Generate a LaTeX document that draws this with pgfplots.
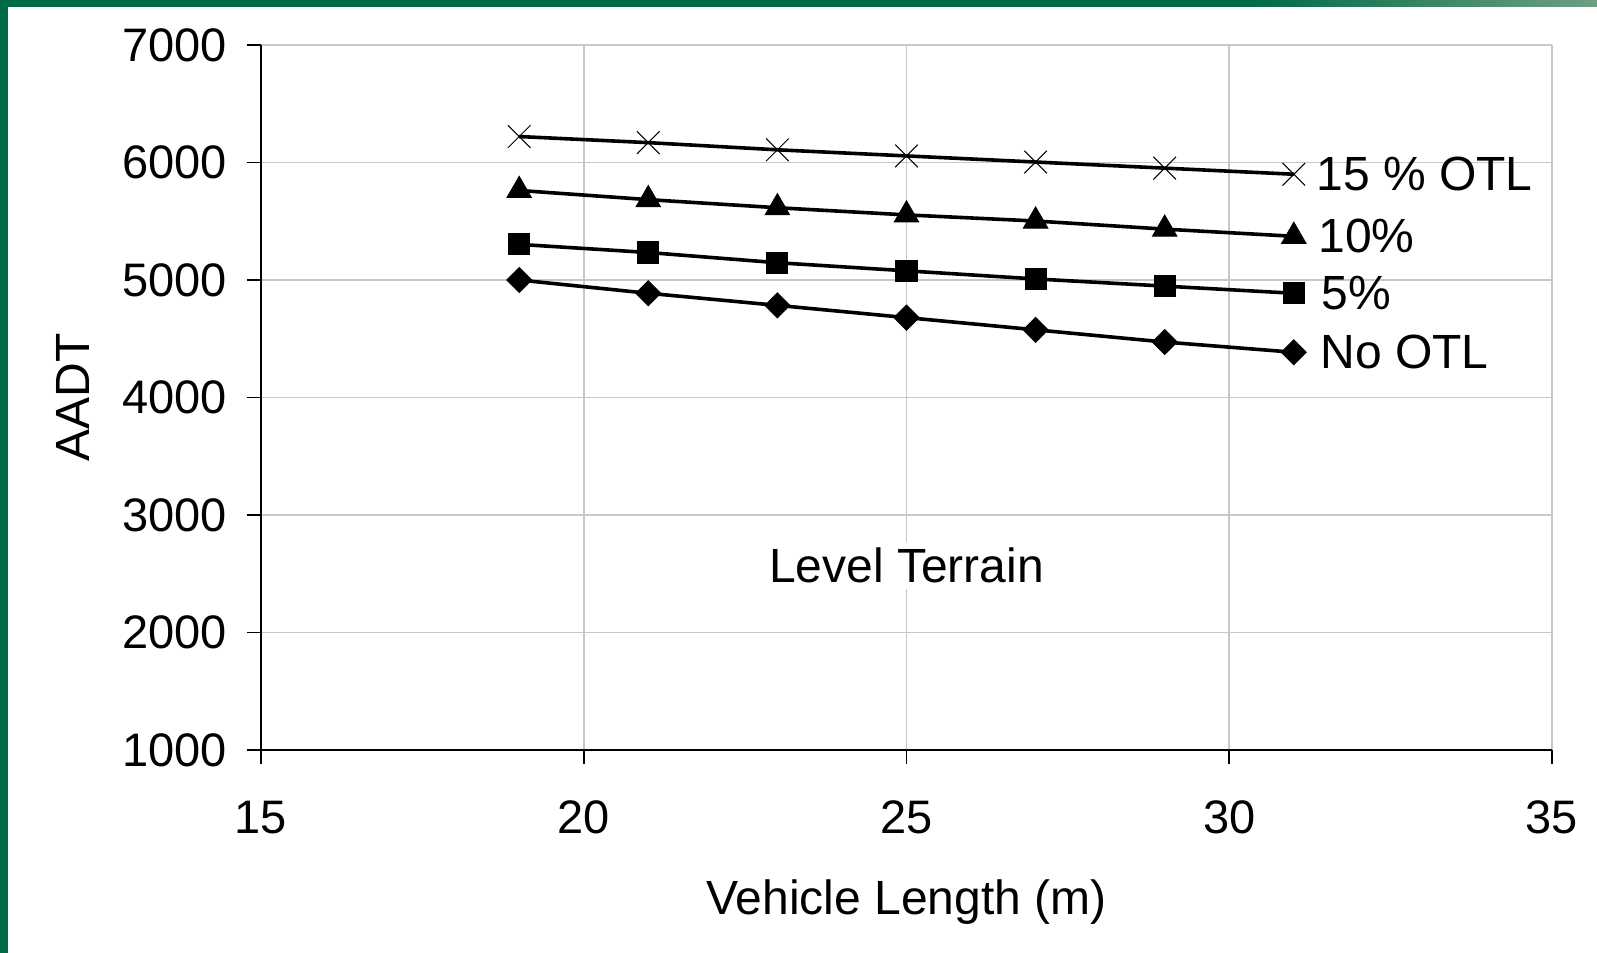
\documentclass[border=0pt]{standalone}
\usepackage{fontspec}
\setmainfont{Liberation Sans}
\usepackage{pgfplots}
\pgfplotsset{compat=1.18}
\definecolor{bordergreen}{RGB}{0,106,70}
\definecolor{bordergreenlight}{RGB}{110,160,130}
\definecolor{gridgray}{RGB}{200,200,200}
\begin{document}
\begin{tikzpicture}
\fill[bordergreen] (-130.5pt,-101.5pt) rectangle (668pt,375pt);
\shade[left color=bordergreen, right color=bordergreenlight] (495pt,371.5pt) rectangle (668pt,375pt);
\fill[white] (-126.5pt,-101.5pt) rectangle (668pt,371.5pt);
\begin{axis}[
 at={(0,0)}, anchor=south west, scale only axis,
 width=645.5pt, height=352.5pt,
 xmin=15,xmax=35,ymin=1000,ymax=7000,
 xtick={15,20,25,30,35}, ytick={1000,2000,3000,4000,5000,6000,7000},
 axis x line*=bottom, axis y line*=left,
 axis line style={black, line width=0.8pt, -},
 grid=major, grid style={gridgray, line width=0.9pt},
 tick align=outside, major tick length=7pt, tick style={black, line width=0.8pt},
 ticklabel style={font=\fontsize{23.5}{27}\selectfont},
 yticklabel style={xshift=-6.5pt},
 xticklabel style={yshift=-15pt},
 /pgf/number format/assume math mode=true,
 /pgf/number format/1000 sep={},
 xlabel={Vehicle Length (m)}, ylabel={AADT},
 label style={font=\fontsize{24}{28}\selectfont},
 xlabel style={at={(axis description cs:0.5,0)}, anchor=center, yshift=-76pt},
 ylabel style={at={(axis description cs:0,0.5)}, anchor=center, yshift=94pt},
 every axis plot/.append style={black, line width=1.8pt},
 clip=false,
]
\addplot[mark=x, mark size=8pt, mark options={line width=0.5pt}] coordinates {
 (19,6221) (21,6169) (23,6108) (25,6056) (27,6004) (29,5952) (31,5900)}
 node[pos=1, anchor=west, inner sep=0pt, xshift=10.5pt, font=\fontsize{24}{28}\selectfont] {15 \% OTL};
\addplot[mark=triangle*, mark size=7pt, mark options={fill=black, line width=0.5pt}] coordinates {
 (19,5762) (21,5684) (23,5615) (25,5554) (27,5502) (29,5433) (31,5372)}
 node[pos=1, anchor=west, inner sep=0pt, xshift=11.5pt, font=\fontsize{24}{28}\selectfont] {10\%};
\addplot[mark=square*, mark size=5.3pt, mark options={fill=black, line width=0.5pt}] coordinates {
 (19,5303) (21,5234) (23,5147) (25,5078) (27,5009) (29,4948) (31,4887)}
 node[pos=1, anchor=west, inner sep=0pt, xshift=13pt, font=\fontsize{24}{28}\selectfont] {5\%};
\addplot[mark=square*, mark size=4.4pt, mark options={fill=black, rotate=45, line width=0.5pt}] coordinates {
 (19,5000) (21,4887) (23,4784) (25,4680) (27,4576) (29,4472) (31,4385)}
 node[pos=1, anchor=west, inner sep=0pt, xshift=12.5pt, font=\fontsize{24}{28}\selectfont] {No OTL};
\node[fill=white, inner sep=3pt, font=\fontsize{24}{28}\selectfont] at (axis cs:25,2570) {Level Terrain};
\end{axis}
\end{tikzpicture}
\end{document}
